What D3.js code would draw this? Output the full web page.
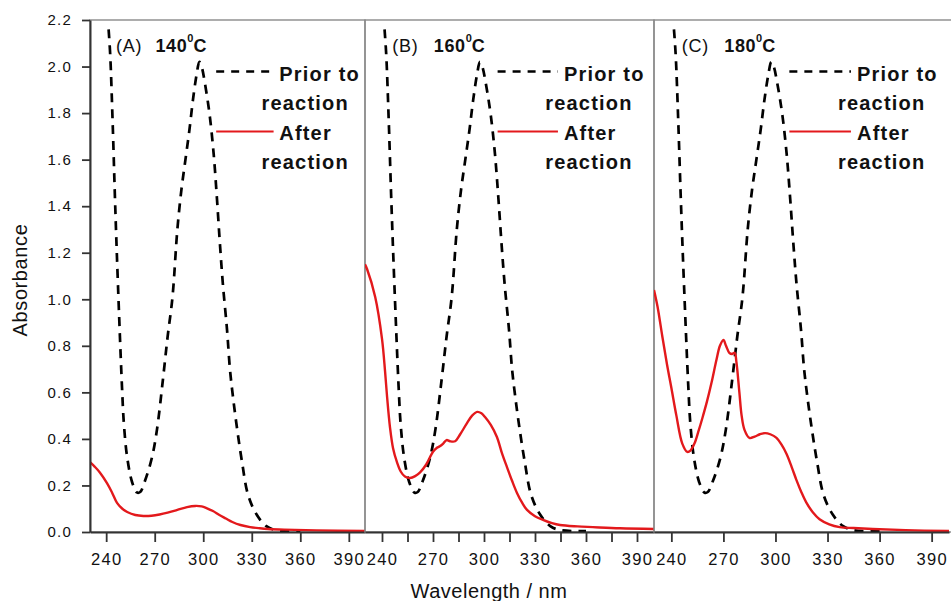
<!DOCTYPE html>
<html>
<head>
  <meta charset="UTF-8">
  <style>
    body { margin: 0; background: #fff; }
    svg { display: block; font-family: "Liberation Sans", Arial, sans-serif; }
  </style>
  <title>absorbance</title>
</head>
<body>
<svg></svg>
<script src="https://d3js.org/d3.v7.min.js"></script>

<script>

// spectra, [wavelength nm, absorbance]
const prior = [[241.5,2.16],[242.5,2.05],[244,1.76],[245.5,1.42],[247.3,1.06],[249.8,0.62],[251,0.46],
  [253,0.32],[256,0.215],[259,0.17],[261,0.172],[264,0.22],[268.3,0.32],[271.4,0.44],[275,0.65],
  [278,0.84],[281,1.01],[284,1.3],[286.5,1.47],[289,1.6],[291.5,1.73],
  [293.7,1.86],[296,1.97],[297.6,2.02],[299,2.0],[301,1.93],[304,1.79],[306.5,1.62],[308.5,1.43],
  [310.3,1.24],[312.2,1.06],[314.7,0.87],[316.5,0.7],[318.4,0.58],[321,0.44],[324,0.3],
  [327.7,0.16],[333,0.075],[339,0.025],[345,0.008],[360,0.004]];

const afterA = [[230,0.3],[233,0.28],[236.2,0.255],[240.5,0.21],[243.6,0.17],[246.7,0.125],[250,0.1],
  [253,0.086],[258,0.073],[263,0.069],[268,0.07],[273,0.075],[278,0.083],[284,0.095],[290,0.107],
  [295,0.112],[299,0.11],[302,0.103],[306,0.09],[310,0.073],[314,0.058],[318,0.043],[323,0.03],
  [329,0.021],[335,0.016],[340,0.013],[350,0.01],[370,0.007],[400,0.004]];

const afterB = [[230,1.15],[231.2,1.13],[236,1.01],[240,0.83],[241.8,0.69],[243,0.58],[244.7,0.45],
  [246.5,0.36],[248.8,0.3],[251,0.26],[253.5,0.238],[256.5,0.232],[259.5,0.24],[262.4,0.256],
  [266,0.29],[270,0.345],[272,0.36],[274,0.368],[276,0.38],[278,0.395],[280,0.39],[283,0.39],
  [286,0.42],[290,0.468],[293,0.5],[296,0.516],[298.5,0.51],[300.6,0.494],[304,0.46],[307.6,0.408],
  [310.5,0.34],[313.5,0.279],[316.5,0.22],[319.4,0.168],[322.5,0.125],[325.3,0.095],[330,0.068],
  [334.7,0.052],[340,0.038],[344.7,0.03],[355,0.024],[364,0.021],[380,0.016],[400,0.013]];

const afterC = [[230,1.04],[232,0.97],[234.8,0.84],[237.5,0.72],[240,0.62],[242.9,0.5],[246.3,0.38],
  [249.2,0.344],[251,0.35],[253.3,0.38],[255.5,0.43],[257.9,0.49],[260.5,0.56],[263.1,0.64],
  [266,0.74],[268,0.8],[270,0.825],[271.5,0.8],[273.4,0.77],[275,0.765],[276.5,0.77],[277.5,0.73],
  [279.2,0.6],[280.5,0.5],[282.1,0.44],[285,0.404],[288,0.41],[291,0.42],[294,0.425],[297,0.42],
  [300.6,0.404],[303.5,0.375],[306.4,0.335],[309.3,0.28],[312.1,0.223],[315,0.17],[317.9,0.125],
  [321.5,0.085],[325.4,0.055],[331,0.033],[337,0.021],[345,0.017],[356,0.013],[375,0.008],[400,0.004]];

const after = [afterA, afterB, afterC];
const panelNames = ["(A)", "(B)", "(C)"];
const temps = ["140", "160", "180"];
const xTicks = [240, 270, 300, 330, 360, 390];
const xMinorB = [255, 285, 315, 345, 375];
const yTicks = [0, 0.2, 0.4, 0.6, 0.8, 1.0, 1.2, 1.4, 1.6, 1.8, 2.0, 2.2];

let width = 951, height = 601;
let plotTop = 20, plotBottom = 532;
let edges = [[90, 365], [365, 654], [654, 949]];

let svg = d3.select("svg")
    .attr("width", width)
    .attr("height", height);

let y = d3.scaleLinear().domain([0, 2.2]).range([plotBottom, plotTop]);

edges.forEach((e, i) => {
    let x = d3.scaleLinear().domain([230, 400]).range(e);
    let g = svg.append("g");

    svg.append("clipPath").attr("id", "clip" + i)
      .append("rect")
        .attr("x", e[0]).attr("y", plotTop)
        .attr("width", e[1] - e[0]).attr("height", plotBottom - plotTop);

    // panel frame
    g.append("rect")
        .attr("x", e[0]).attr("y", plotTop)
        .attr("width", (i == 2 ? 960 : e[1]) - e[0]).attr("height", plotBottom - plotTop)
        .attr("fill", "none")
        .attr("stroke", "#8a8a8a")
        .attr("stroke-width", 1.4);

    let line = d3.line()
        .x(d => x(d[0]))
        .y(d => y(d[1]))
        .curve(d3.curveCatmullRom.alpha(0.5));

    g.append("path")
        .datum(prior)
        .attr("clip-path", "url(#clip" + i + ")")
        .attr("d", line)
        .attr("fill", "none")
        .attr("stroke", "#000")
        .attr("stroke-width", 2.7)
        .attr("stroke-dasharray", "9,7");

    g.append("path")
        .datum(after[i])
        .attr("clip-path", "url(#clip" + i + ")")
        .attr("d", line)
        .attr("fill", "none")
        .attr("stroke", "#e3191c")
        .attr("stroke-width", 2.4);

    // x axis
    let ax = g.append("g")
        .attr("transform", "translate(0," + plotBottom + ")")
        .call(d3.axisBottom(x).tickValues(xTicks).tickSize(10).tickPadding(11).tickSizeOuter(0));
    if (i == 1) {
        g.append("g")
            .attr("transform", "translate(0," + plotBottom + ")")
            .call(d3.axisBottom(x).tickValues(xMinorB).tickSize(10).tickFormat(""))
            .select(".domain").remove();
    }
    g.selectAll(".tick line").attr("stroke", "#333").attr("stroke-width", 1.8);
    ax.select(".domain").attr("stroke", "#333").attr("stroke-width", 2);
    ax.selectAll("text")
        .attr("fill", "#111")
        .style("font-size", "16.5px")
        .style("letter-spacing", "1.3px")
        .style("font-family", "Liberation Sans");

    // title
    let t = g.append("text")
        .attr("y", 52)
        .attr("fill", "#111")
        .style("font-size", "18px");
    t.append("tspan").attr("x", x(246)).style("letter-spacing", "0.8px").text(panelNames[i]);
    t.append("tspan").attr("x", x(270.5)).style("font-weight", "bold").style("letter-spacing", "0.6px").text(temps[i]);
    t.append("tspan").attr("dy", -10).style("font-size", "11px").style("font-weight", "bold").text("0");
    t.append("tspan").attr("dy", 10).style("font-weight", "bold").text("C");

    // legend
    let lg = g.append("g")
        .style("font-size", "20px")
        .style("font-weight", "bold")
        .style("letter-spacing", "1.2px")
        .attr("fill", "#111");
    lg.append("line")
        .attr("x1", x(308)).attr("x2", x(343.5))
        .attr("y1", 71.5).attr("y2", 71.5)
        .attr("stroke", "#000").attr("stroke-width", 2.6)
        .attr("stroke-dasharray", "8,7");
    lg.append("text").attr("x", x(347)).attr("y", 80.5).text("Prior to");
    lg.append("text").attr("x", x(336)).attr("y", 110).text("reaction");
    lg.append("line")
        .attr("x1", x(308)).attr("x2", x(343.5))
        .attr("y1", 131.5).attr("y2", 131.5)
        .attr("stroke", "#e3191c").attr("stroke-width", 2.2);
    lg.append("text").attr("x", x(347)).attr("y", 139.5).text("After");
    lg.append("text").attr("x", x(336)).attr("y", 169).text("reaction");
});

// y axis on the first panel
let ay = svg.append("g")
    .attr("transform", "translate(" + edges[0][0] + ",0)")
    .call(d3.axisLeft(y).tickValues(yTicks).tickSize(8).tickPadding(10).tickSizeOuter(0)
        .tickFormat(d3.format(".1f")));
ay.select(".domain").attr("stroke", "#333").attr("stroke-width", 2);
ay.selectAll(".tick line").attr("stroke", "#333").attr("stroke-width", 1.8);
ay.selectAll("text")
    .attr("fill", "#111")
    .style("font-size", "15px")
    .style("letter-spacing", "1.2px")
    .style("font-family", "Liberation Sans");

svg.append("text")
    .attr("x", 489).attr("y", 598)
    .attr("text-anchor", "middle")
    .attr("fill", "#111")
    .style("font-size", "20px")
    .style("letter-spacing", "0.5px")
    .text("Wavelength / nm");

svg.append("text")
    .attr("transform", "translate(27,280) rotate(-90)")
    .attr("text-anchor", "middle")
    .attr("fill", "#111")
    .style("font-size", "20px")
    .style("letter-spacing", "0.6px")
    .text("Absorbance");

</script>

</body>
</html>
